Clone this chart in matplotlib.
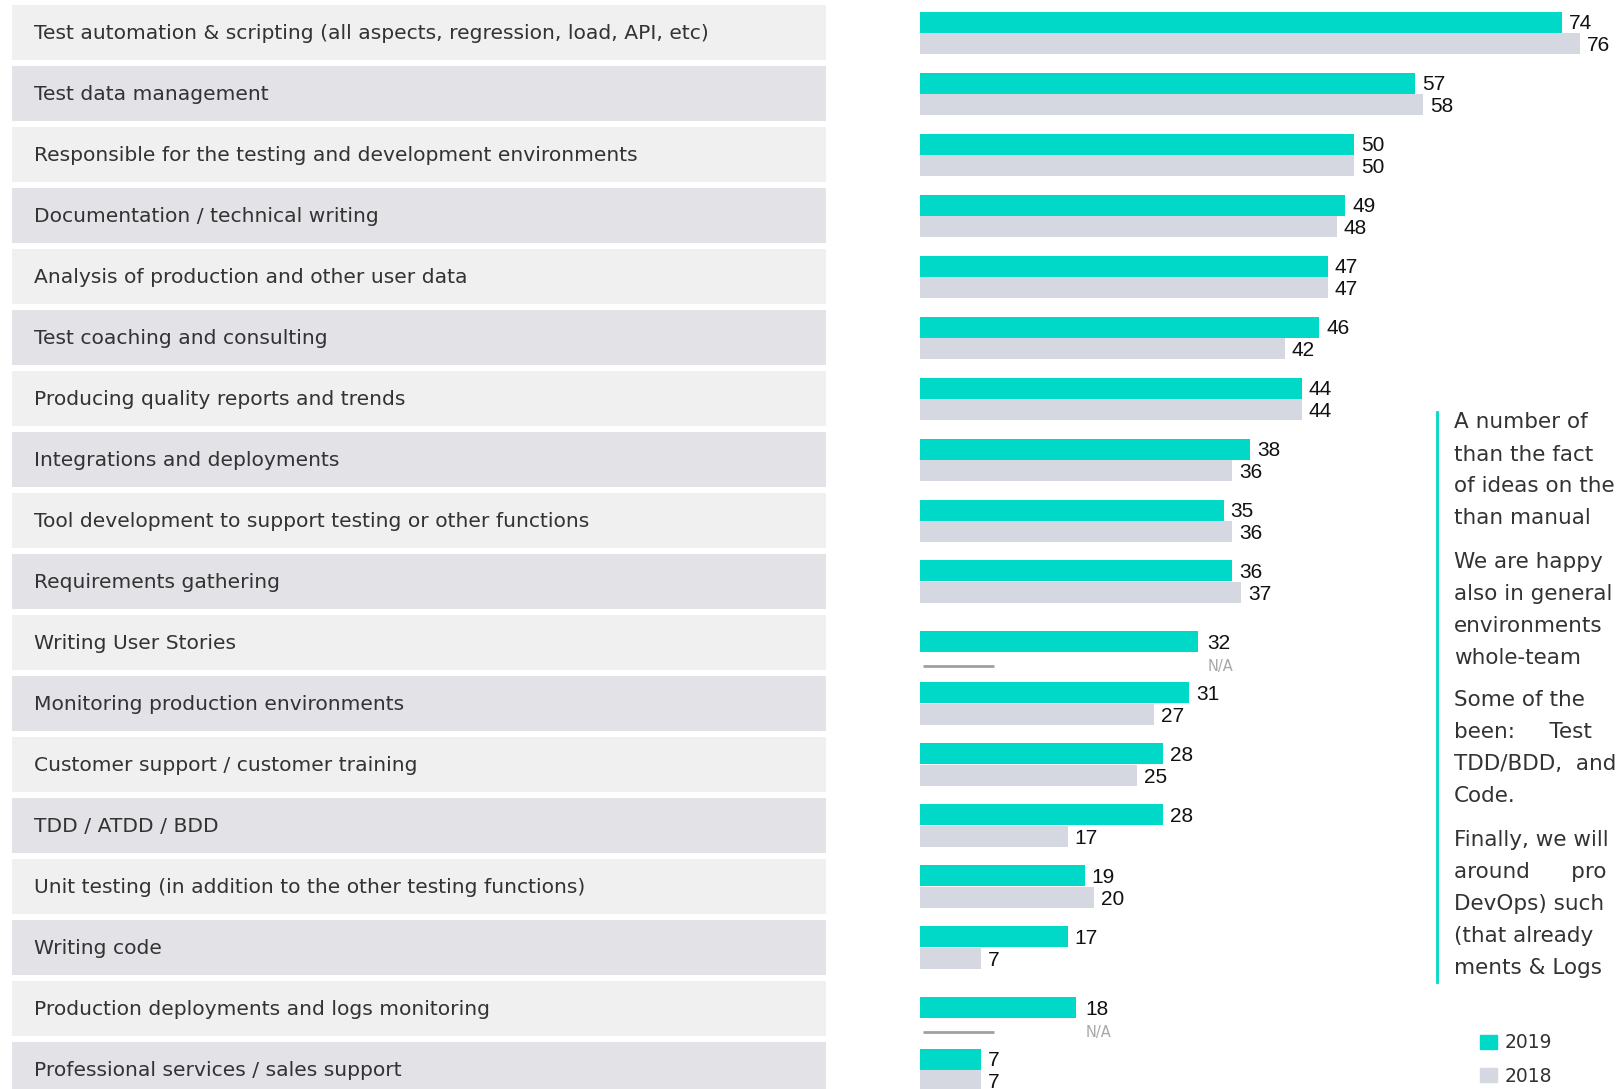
import matplotlib
matplotlib.use("Agg")
import matplotlib.pyplot as plt
from matplotlib.patches import Patch

W, H = 1616, 1089

categories = [
    "Test automation & scripting (all aspects, regression, load, API, etc)",
    "Test data management",
    "Responsible for the testing and development environments",
    "Documentation / technical writing",
    "Analysis of production and other user data",
    "Test coaching and consulting",
    "Producing quality reports and trends",
    "Integrations and deployments",
    "Tool development to support testing or other functions",
    "Requirements gathering",
    "Writing User Stories",
    "Monitoring production environments",
    "Customer support / customer training",
    "TDD / ATDD / BDD",
    "Unit testing (in addition to the other testing functions)",
    "Writing code",
    "Production deployments and logs monitoring",
    "Professional services / sales support",
]
values_2019 = [74, 57, 50, 49, 47, 46, 44, 38, 35, 36, 32, 31, 28, 28, 19, 17, 18, 7]
values_2018 = [76, 58, 50, 48, 47, 42, 44, 36, 36, 37, None, 27, 25, 17, 20, 7, None, 7]
series_names = ["2019", "2018"]

side_text = [
    ["A number of", "than the fact", "of ideas on the", "than manual"],
    ["We are happy", "also in general", "environments", "whole-team"],
    ["Some of the", "been:     Test", "TDD/BDD,  and", "Code."],
    ["Finally, we will", "around      pro", "DevOps) such", "(that already", "ments & Logs"],
]

TEAL = "#00d8c8"
GREY = "#d5d8e0"
PANEL = ["#f0f0f0", "#e3e3e7"]
plt.rcParams["font.family"] = ["DejaVu Sans"]
NUM_FONT = ["Liberation Sans", "DejaVu Sans"]

fig = plt.figure(figsize=(W / 100, H / 100), dpi=100)

# rows share one vertical scale: row i centred at pixel 32.5 + 61*i
pitch = 61.0
ylim = ((H - 32.5) / pitch, -32.5 / pitch)
rows = list(range(len(categories)))

# left panels with the category names
lab = fig.add_axes([12 / W, 0, 814 / W, 1])
lab.set_xlim(0, 1)
lab.set_ylim(*ylim)
lab.axis("off")
lab.barh(rows, 1, height=55 / pitch, left=0,
         color=[PANEL[i % 2] for i in rows])
for i, name in zip(rows, categories):
    lab.text(0.027, i + 0.02, name, va="center", ha="left",
             fontsize=14.6, color="#333333")

# bars
px_per_unit = 8.68
ax = fig.add_axes([920 / W, 0, (W - 920) / W, 1])
ax.set_xlim(0, (W - 920) / px_per_unit)
ax.set_ylim(*ylim)
ax.axis("off")

bh = 21 / pitch
off = 0.8
for i, (a, b) in zip(rows, zip(values_2019, values_2018)):
    if b is None:
        ax.barh(i - 0.01, a, height=bh, color=TEAL, linewidth=0)
        ax.plot([0.35, 8.5], [i + 0.39, i + 0.39], color="#a0a0a0", lw=2,
                solid_capstyle="butt")
        ax.text(a + 1.1, i + 0.02, str(a), va="center", ha="left",
                fontsize=15, color="#111111", family=NUM_FONT)
        ax.text(a + 1.1, i + 0.4, "N/A", va="center", ha="left",
                fontsize=10.5, color="#a8a8a8")
    else:
        ax.barh(i - bh / 2, a, height=bh, color=TEAL, linewidth=0)
        ax.barh(i + bh / 2, b, height=bh, color=GREY, linewidth=0)
        ax.text(a + off, i - bh / 2 + 0.02, str(a), va="center", ha="left",
                fontsize=15, color="#111111", family=NUM_FONT)
        ax.text(b + off, i + bh / 2 + 0.04, str(b), va="center", ha="left",
                fontsize=15, color="#111111", family=NUM_FONT)

# side commentary with teal rule
fig.add_artist(plt.Line2D([1437 / W, 1437 / W], [1 - 412 / H, 1 - 982 / H],
                          color=TEAL, lw=2))
y = 422.5
for para in side_text:
    for line in para:
        fig.text(1454 / W, 1 - y / H, line, va="center", ha="left",
                 fontsize=15.5, color="#333333")
        y += 32
    y += 11

handles = [Patch(color=TEAL), Patch(color=GREY)]
fig.legend(handles, series_names, loc="upper left",
           bbox_to_anchor=(1472 / W, 1 - 1026 / H), frameon=False,
           fontsize=13.5, handlelength=0.95, handleheight=0.8,
           handletextpad=0.4, labelspacing=0.75, borderaxespad=0,
           labelcolor="#333333")

fig.savefig("out.png", dpi=100)
